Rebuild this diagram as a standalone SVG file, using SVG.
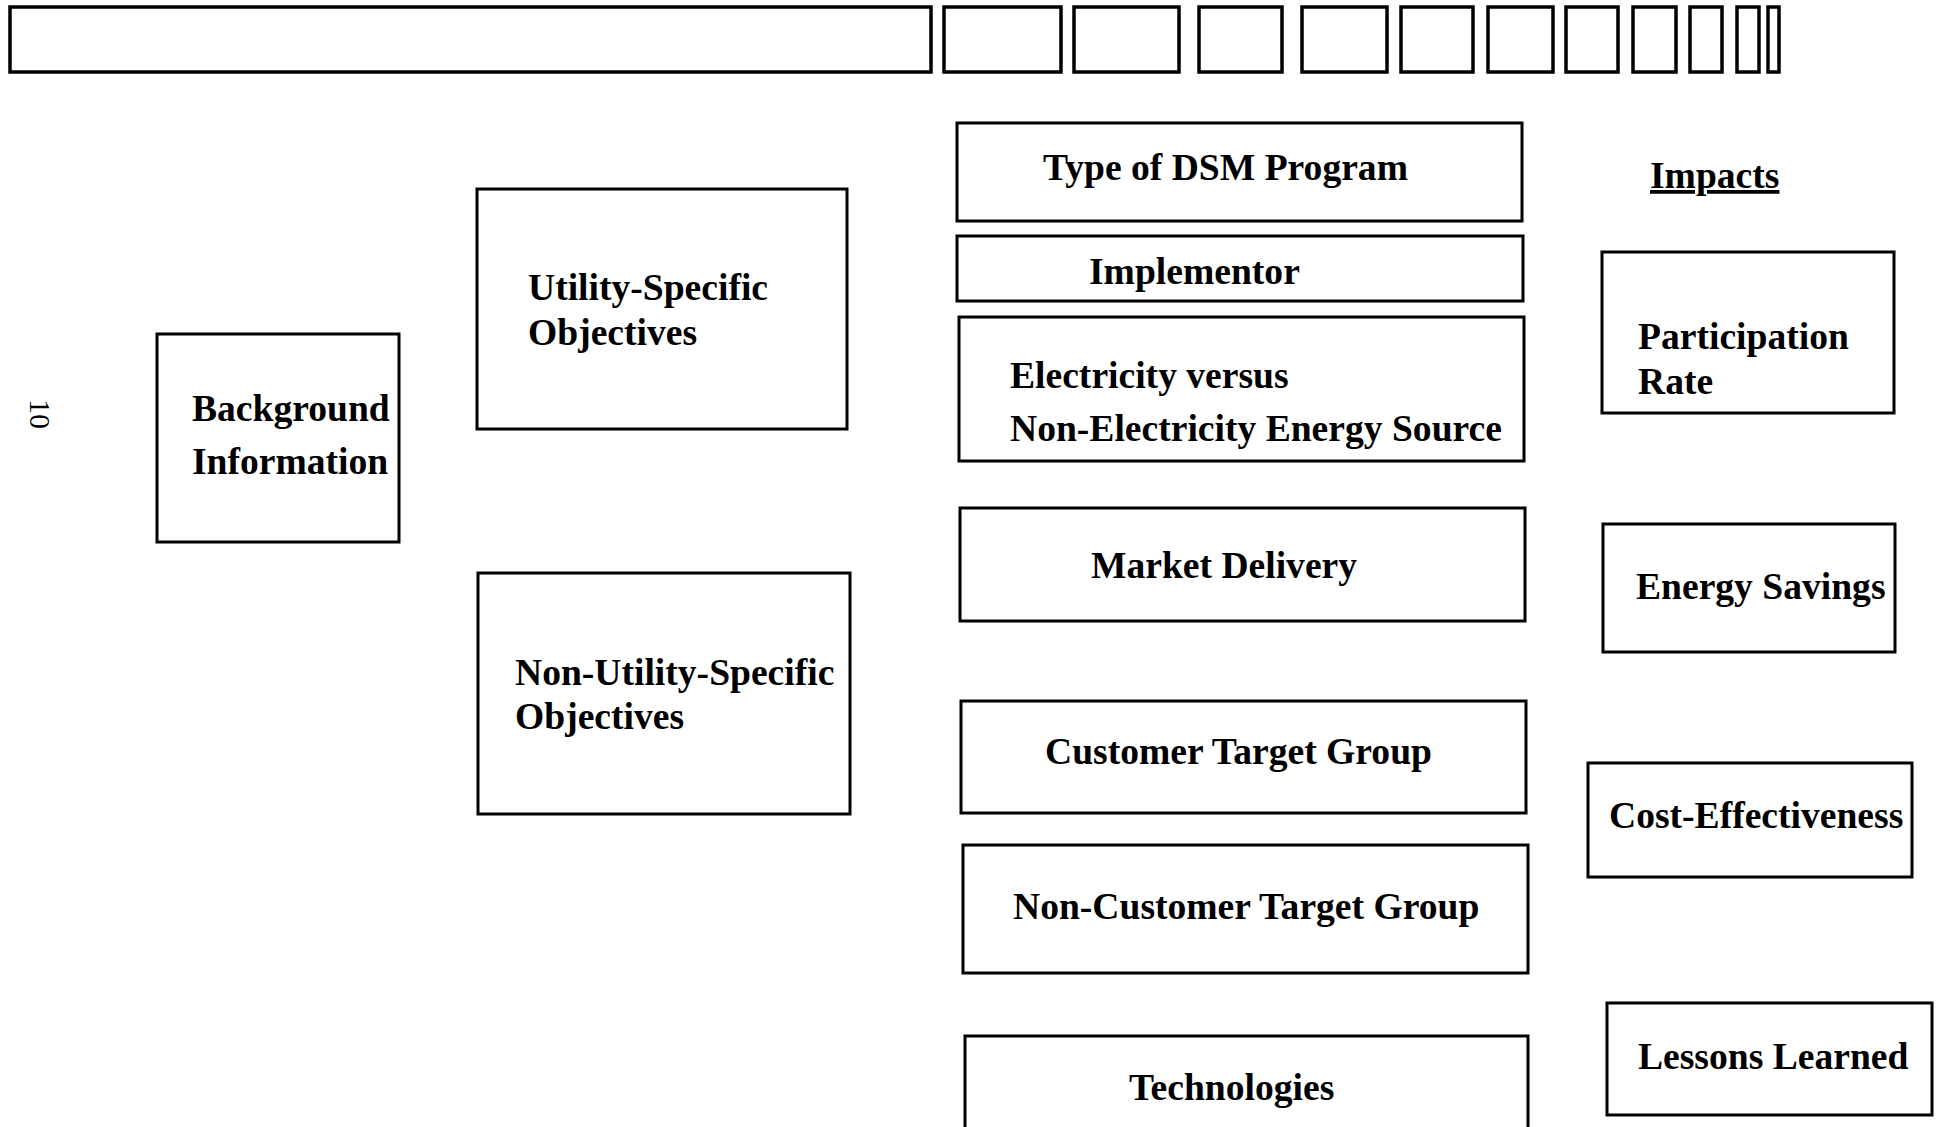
<svg xmlns="http://www.w3.org/2000/svg" width="1937" height="1127" viewBox="0 0 1937 1127">
<style>
.box{fill:#fff;stroke:#000;stroke-width:3}
.bar{fill:#fff;stroke:#000;stroke-width:3.5}
.t{font-family:"Liberation Serif","Times New Roman",serif;font-weight:bold;font-size:37.6px;fill:#000}
.pg{font-family:"Liberation Serif","Times New Roman",serif;font-size:30px;fill:#000}
</style>
<rect width="1937" height="1127" fill="#fff"/>
<g id="header-bar">
<rect class="bar" x="10" y="7" width="921" height="65"/>
<rect class="bar" x="944" y="7" width="117" height="65"/>
<rect class="bar" x="1074" y="7" width="105" height="65"/>
<rect class="bar" x="1199" y="7" width="83" height="65"/>
<rect class="bar" x="1302" y="7" width="85" height="65"/>
<rect class="bar" x="1401" y="7" width="72" height="65"/>
<rect class="bar" x="1488" y="7" width="65" height="65"/>
<rect class="bar" x="1566" y="7" width="52" height="65"/>
<rect class="bar" x="1633" y="7" width="43" height="65"/>
<rect class="bar" x="1690" y="7" width="32" height="65"/>
<rect class="bar" x="1737" y="7" width="22" height="65"/>
<rect class="bar" x="1768" y="7" width="11" height="65"/>
</g>
<text class="pg" transform="translate(30,399) rotate(90)">10</text>
<g id="connectors"/>
<g id="background-information">
<rect class="box" x="157" y="334" width="242" height="208"/>
<text class="t" x="192" y="421">Background</text>
<text class="t" x="192" y="474">Information</text>
</g>
<g id="utility-specific-objectives">
<rect class="box" x="477" y="189" width="370" height="240"/>
<text class="t" x="528" y="300">Utility-Specific</text>
<text class="t" x="528" y="345">Objectives</text>
</g>
<g id="non-utility-specific-objectives">
<rect class="box" x="478" y="573" width="372" height="241"/>
<text class="t" x="515" y="685">Non-Utility-Specific</text>
<text class="t" x="515" y="729">Objectives</text>
</g>
<g id="type-of-dsm-program">
<rect class="box" x="957" y="123" width="565" height="98"/>
<text class="t" x="1043" y="180">Type of DSM Program</text>
</g>
<g id="implementor">
<rect class="box" x="957" y="236" width="566" height="65"/>
<text class="t" x="1089" y="284">Implementor</text>
</g>
<g id="energy-source">
<rect class="box" x="959" y="317" width="565" height="144"/>
<text class="t" x="1010" y="388">Electricity versus</text>
<text class="t" x="1010" y="441">Non-Electricity Energy Source</text>
</g>
<g id="market-delivery">
<rect class="box" x="960" y="508" width="565" height="113"/>
<text class="t" x="1091" y="578">Market Delivery</text>
</g>
<g id="customer-target-group">
<rect class="box" x="961" y="701" width="565" height="112"/>
<text class="t" x="1045" y="764">Customer Target Group</text>
</g>
<g id="non-customer-target-group">
<rect class="box" x="963" y="845" width="565" height="128"/>
<text class="t" x="1013" y="919">Non-Customer Target Group</text>
</g>
<g id="technologies">
<rect class="box" x="965" y="1036" width="563" height="120"/>
<text class="t" x="1129" y="1100">Technologies</text>
</g>
<g id="impacts-heading">
<text class="t" x="1650" y="188" text-decoration="underline">Impacts</text>
</g>
<g id="participation-rate">
<rect class="box" x="1602" y="252" width="292" height="161"/>
<text class="t" x="1638" y="349">Participation</text>
<text class="t" x="1638" y="394">Rate</text>
</g>
<g id="energy-savings">
<rect class="box" x="1603" y="524" width="292" height="128"/>
<text class="t" x="1636" y="599">Energy Savings</text>
</g>
<g id="cost-effectiveness">
<rect class="box" x="1588" y="763" width="324" height="114"/>
<text class="t" x="1609" y="828">Cost-Effectiveness</text>
</g>
<g id="lessons-learned">
<rect class="box" x="1607" y="1003" width="325" height="112"/>
<text class="t" x="1638" y="1069">Lessons Learned</text>
</g>
</svg>
